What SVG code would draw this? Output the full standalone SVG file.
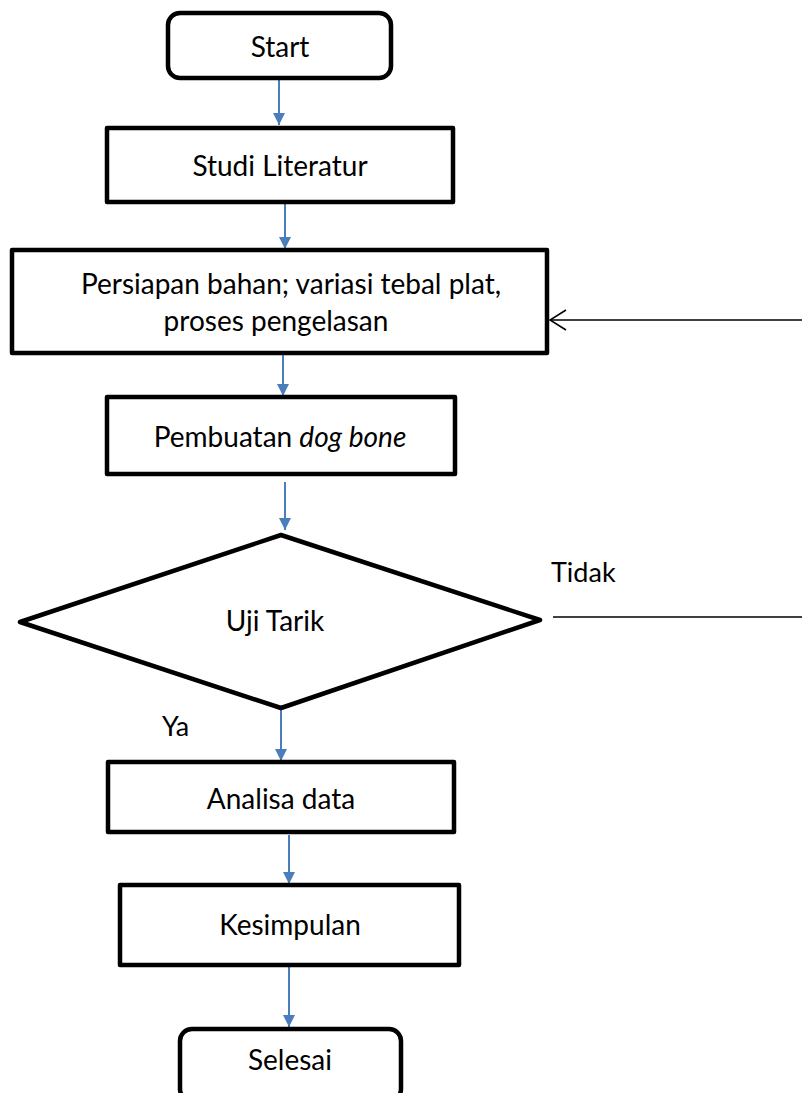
<svg xmlns="http://www.w3.org/2000/svg" width="802" height="1093" viewBox="0 0 802 1093">
<style>
.box{fill:#fff;stroke:#000;stroke-width:4.5;stroke-linejoin:round}
.t{font-family:Lato,"Liberation Sans",sans-serif;font-size:28px;fill:#000;text-anchor:middle}
.lbl{font-family:Lato,"Liberation Sans",sans-serif;font-size:27px;fill:#000}
.blue{stroke:#4a7ebb;stroke-width:2;fill:none}
.blk{stroke:#000;stroke-width:1.5;fill:none}
</style>
<defs>
<marker id="ah" markerWidth="12" markerHeight="12" viewBox="0 0 12 12" refX="12" refY="6" orient="auto" markerUnits="userSpaceOnUse">
<path d="M0,0 L12,6 L0,12 Z" fill="#4a7ebb"/>
</marker>
<marker id="open" markerWidth="18" markerHeight="22" viewBox="0 0 18 22" refX="17" refY="11" orient="auto" markerUnits="userSpaceOnUse">
<path d="M1,1 L17,11 L1,21" fill="none" stroke="#000" stroke-width="1.5"/>
</marker>
</defs>
<g id="connectors">
<line class="blue" x1="279" y1="79" x2="279" y2="125" marker-end="url(#ah)"/>
<line class="blue" x1="285" y1="203" x2="285" y2="249" marker-end="url(#ah)"/>
<line class="blue" x1="283" y1="354" x2="283" y2="396" marker-end="url(#ah)"/>
<line class="blue" x1="285" y1="482" x2="285" y2="530" marker-end="url(#ah)"/>
<line class="blue" x1="281" y1="708" x2="281" y2="761" marker-end="url(#ah)"/>
<line class="blue" x1="289" y1="835" x2="289" y2="884" marker-end="url(#ah)"/>
<line class="blue" x1="289" y1="967" x2="289" y2="1027" marker-end="url(#ah)"/>
<line class="blk" x1="553" y1="617" x2="802" y2="617"/>
<line class="blk" x1="802" y1="320" x2="550" y2="320" marker-end="url(#open)"/>
<text class="lbl" x="551" y="582">Tidak</text>
<text class="lbl" x="162" y="736">Ya</text>
</g>
<g id="start">
<rect class="box" x="168" y="13" width="223" height="65" rx="12"/>
<text class="t" x="280" y="57">Start</text>
</g>
<g id="studi">
<rect class="box" x="107" y="128" width="346" height="74"/>
<text class="t" x="280" y="176">Studi Literatur</text>
</g>
<g id="persiapan">
<rect class="box" x="12" y="250" width="535" height="103"/>
<text class="t" x="291" y="294">Persiapan bahan; variasi tebal plat,</text>
<text class="t" x="276" y="331">proses pengelasan</text>
</g>
<g id="pembuatan">
<rect class="box" x="107" y="397" width="348" height="77"/>
<text class="t" x="280" y="447">Pembuatan <tspan font-style="italic">dog bone</tspan></text>
</g>
<g id="uji">
<polygon class="box" points="281,535 540,620 281,708 20,622"/>
<text class="t" x="275" y="631">Uji Tarik</text>
</g>
<g id="analisa">
<rect class="box" x="108" y="762" width="346" height="70"/>
<text class="t" x="281" y="809">Analisa data</text>
</g>
<g id="kesimpulan">
<rect class="box" x="120" y="885" width="339" height="80"/>
<text class="t" x="290" y="935">Kesimpulan</text>
</g>
<g id="selesai">
<rect class="box" x="180" y="1029" width="221" height="72" rx="12"/>
<text class="t" x="290" y="1070">Selesai</text>
</g>
</svg>
